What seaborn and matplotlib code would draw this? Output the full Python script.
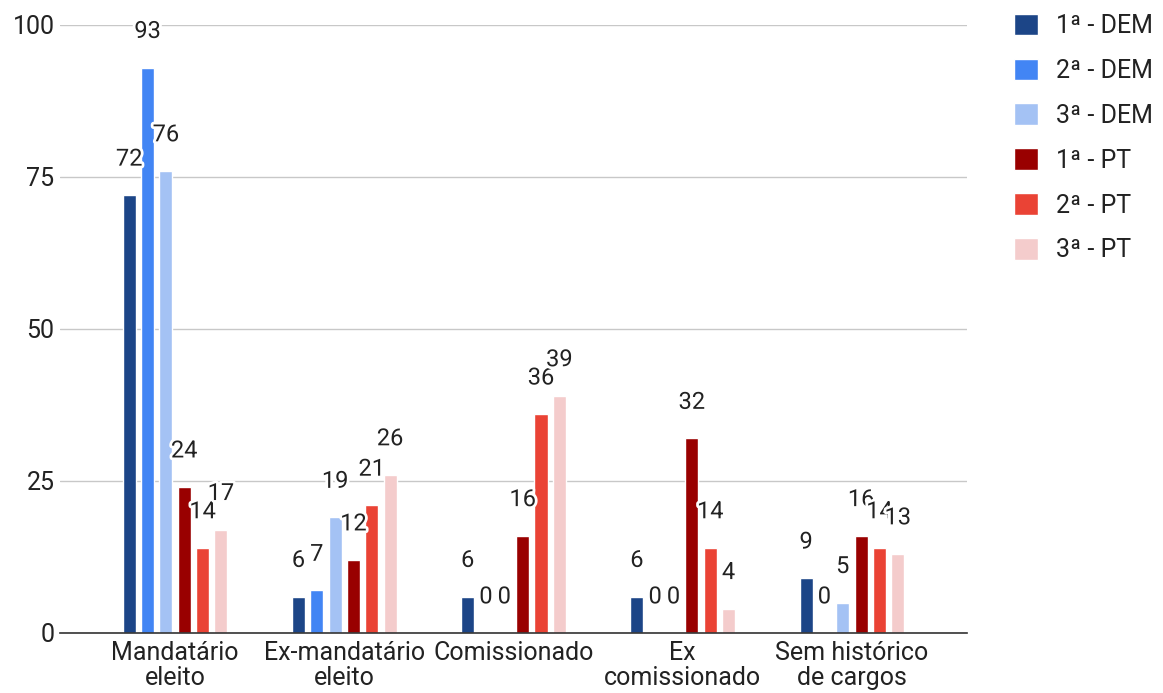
import pandas as pd
import seaborn as sns
import matplotlib
import matplotlib.pyplot as plt
import matplotlib.patheffects as pe

matplotlib.use('Agg')

categories = ['Mandatário\neleito', 'Ex-mandatário\neleito', 'Comissionado',
              'Ex\ncomissionado', 'Sem histórico\nde cargos']
series = ['1ª - DEM', '2ª - DEM', '3ª - DEM', '1ª - PT', '2ª - PT', '3ª - PT']
dem_1 = [72, 6, 6, 6, 9]
dem_2 = [93, 7, 0, 0, 0]
dem_3 = [76, 19, 0, 0, 5]
pt_1 = [24, 12, 16, 32, 16]
pt_2 = [14, 21, 36, 14, 14]
pt_3 = [17, 26, 39, 4, 13]
colors = ['#1c4587', '#4285f4', '#a4c2f4', '#990000', '#ea4335', '#f4cccc']

values = [dem_1, dem_2, dem_3, pt_1, pt_2, pt_3]
rows = []
for name, vals in zip(series, values):
    for cat, v in zip(categories, vals):
        rows.append({'categoria': cat, 'serie': name, 'valor': v})
df = pd.DataFrame(rows)

sns.set_style('white')
plt.rcParams['font.family'] = ['Roboto', 'DejaVu Sans']

fig = plt.figure(figsize=(11.63, 6.93), dpi=100)
ax = fig.add_axes([60 / 1163, 1 - 633 / 693, 907 / 1163, 608 / 693])

sns.barplot(data=df, x='categoria', y='valor', hue='serie', order=categories,
            hue_order=series, palette=colors, width=0.65, gap=0.29,
            saturation=1, ax=ax, legend=True)

# rótulos de valor com contorno branco
for cont in ax.containers:
    for bar in cont:
        h = bar.get_height()
        ax.annotate(f'{h:.0f}', (bar.get_x() + bar.get_width() / 2, h),
                    xytext=(0, 26), textcoords='offset points',
                    ha='center', va='center', fontsize=17, color='#222222',
                    annotation_clip=False,
                    path_effects=[pe.withStroke(linewidth=4, foreground='white')])

ax.set_xlim(-0.68, 4.68)
ax.set_ylim(0, 100)
ax.set_yticks([0, 25, 50, 75, 100])
ax.yaxis.grid(True, color='#c8c8c8', linewidth=1)
ax.set_axisbelow(True)
for s in ['top', 'right', 'left']:
    ax.spines[s].set_visible(False)
ax.spines['bottom'].set_color('#333333')
ax.spines['bottom'].set_linewidth(1.2)
ax.tick_params(axis='both', length=0, labelsize=18, colors='#222222')
ax.tick_params(axis='y', pad=4)
ax.tick_params(axis='x', pad=6)
for lbl in ax.get_xticklabels():
    lbl.set_linespacing(1.05)
ax.set_xlabel('')
ax.set_ylabel('')

ax.legend(loc='upper left', bbox_to_anchor=(1004 / 907 - 60 / 907, 1.035),
          frameon=False, fontsize=18, labelcolor='#222222',
          handlelength=0.95, handleheight=0.95, handletextpad=0.75,
          labelspacing=0.82, borderaxespad=0)

fig.savefig('out.png', dpi=100)
